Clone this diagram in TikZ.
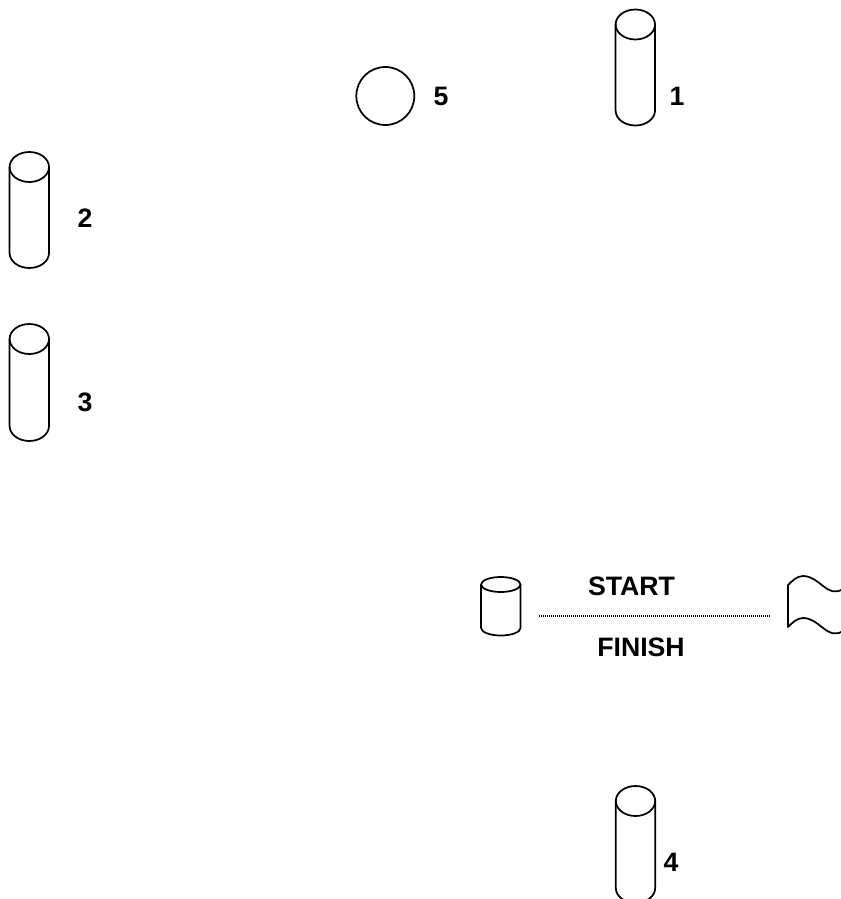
\documentclass[tikz,border=0pt]{standalone}
\usepackage{fontspec}
\setmainfont{Liberation Sans}
\tikzset{
  ink/.style={draw=black,line width=1.3pt,line cap=round,line join=round},
  lbl/.style={font=\fontsize{20pt}{22pt}\selectfont\bfseries,inner sep=0pt,text=black},
  pics/cyl/.style 2 args={code={
    % origin = centre of the top ellipse; #1 = height of the side, #2 = ry
    \draw[ink] (0,0) ellipse [x radius=19.7,y radius=#2];
    \draw[ink] (-19.7,0) -- (-19.7,#1) arc [start angle=180,end angle=0,x radius=19.7,y radius=#2] -- (19.7,0);
  }}
}
\begin{document}
\begin{tikzpicture}[x=0.75pt,y=-0.75pt]
\useasboundingbox (0,0) rectangle (841,899);
\clip (0,0) rectangle (841,899);
\pic at (635.3,24.5) {cyl={86}{15}};
\pic at (29.3,167) {cyl={86}{15}};
\pic at (29.3,339) {cyl={87}{15}};
\pic at (635.5,801) {cyl={87}{15}};
\pic at (500.8,584.5) {cyl={43.5}{7.5}};
\node[ink,circle,minimum size=43.5pt,inner sep=0pt] (ball) at (385.3,96) {};
\node[lbl] (n1) at (677,96) {1};
\node[lbl] (n2) at (85,218) {2};
\node[lbl] (n3) at (85,402) {3};
\node[lbl] (n4) at (671,862) {4};
\node[lbl] (n5) at (441,96) {5};
\node[lbl] (st) at (631.5,586) {START};
\node[lbl] (fi) at (641,647) {FINISH};
\coordinate (la) at (539,615.5);
\coordinate (lb) at (770,615.5);
\draw[line width=1.5pt,dash pattern=on 0.8pt off 0.7pt] (la) -- (lb);
\draw[ink] (843,589) .. controls (827,599) and (820,576) .. (803,576)
  .. controls (797,576) and (792,581) .. (788,585) -- (788,627)
  .. controls (792,623) and (797,618) .. (803,618)
  .. controls (820,618) and (827,641) .. (843,631);
\end{tikzpicture}
\end{document}
